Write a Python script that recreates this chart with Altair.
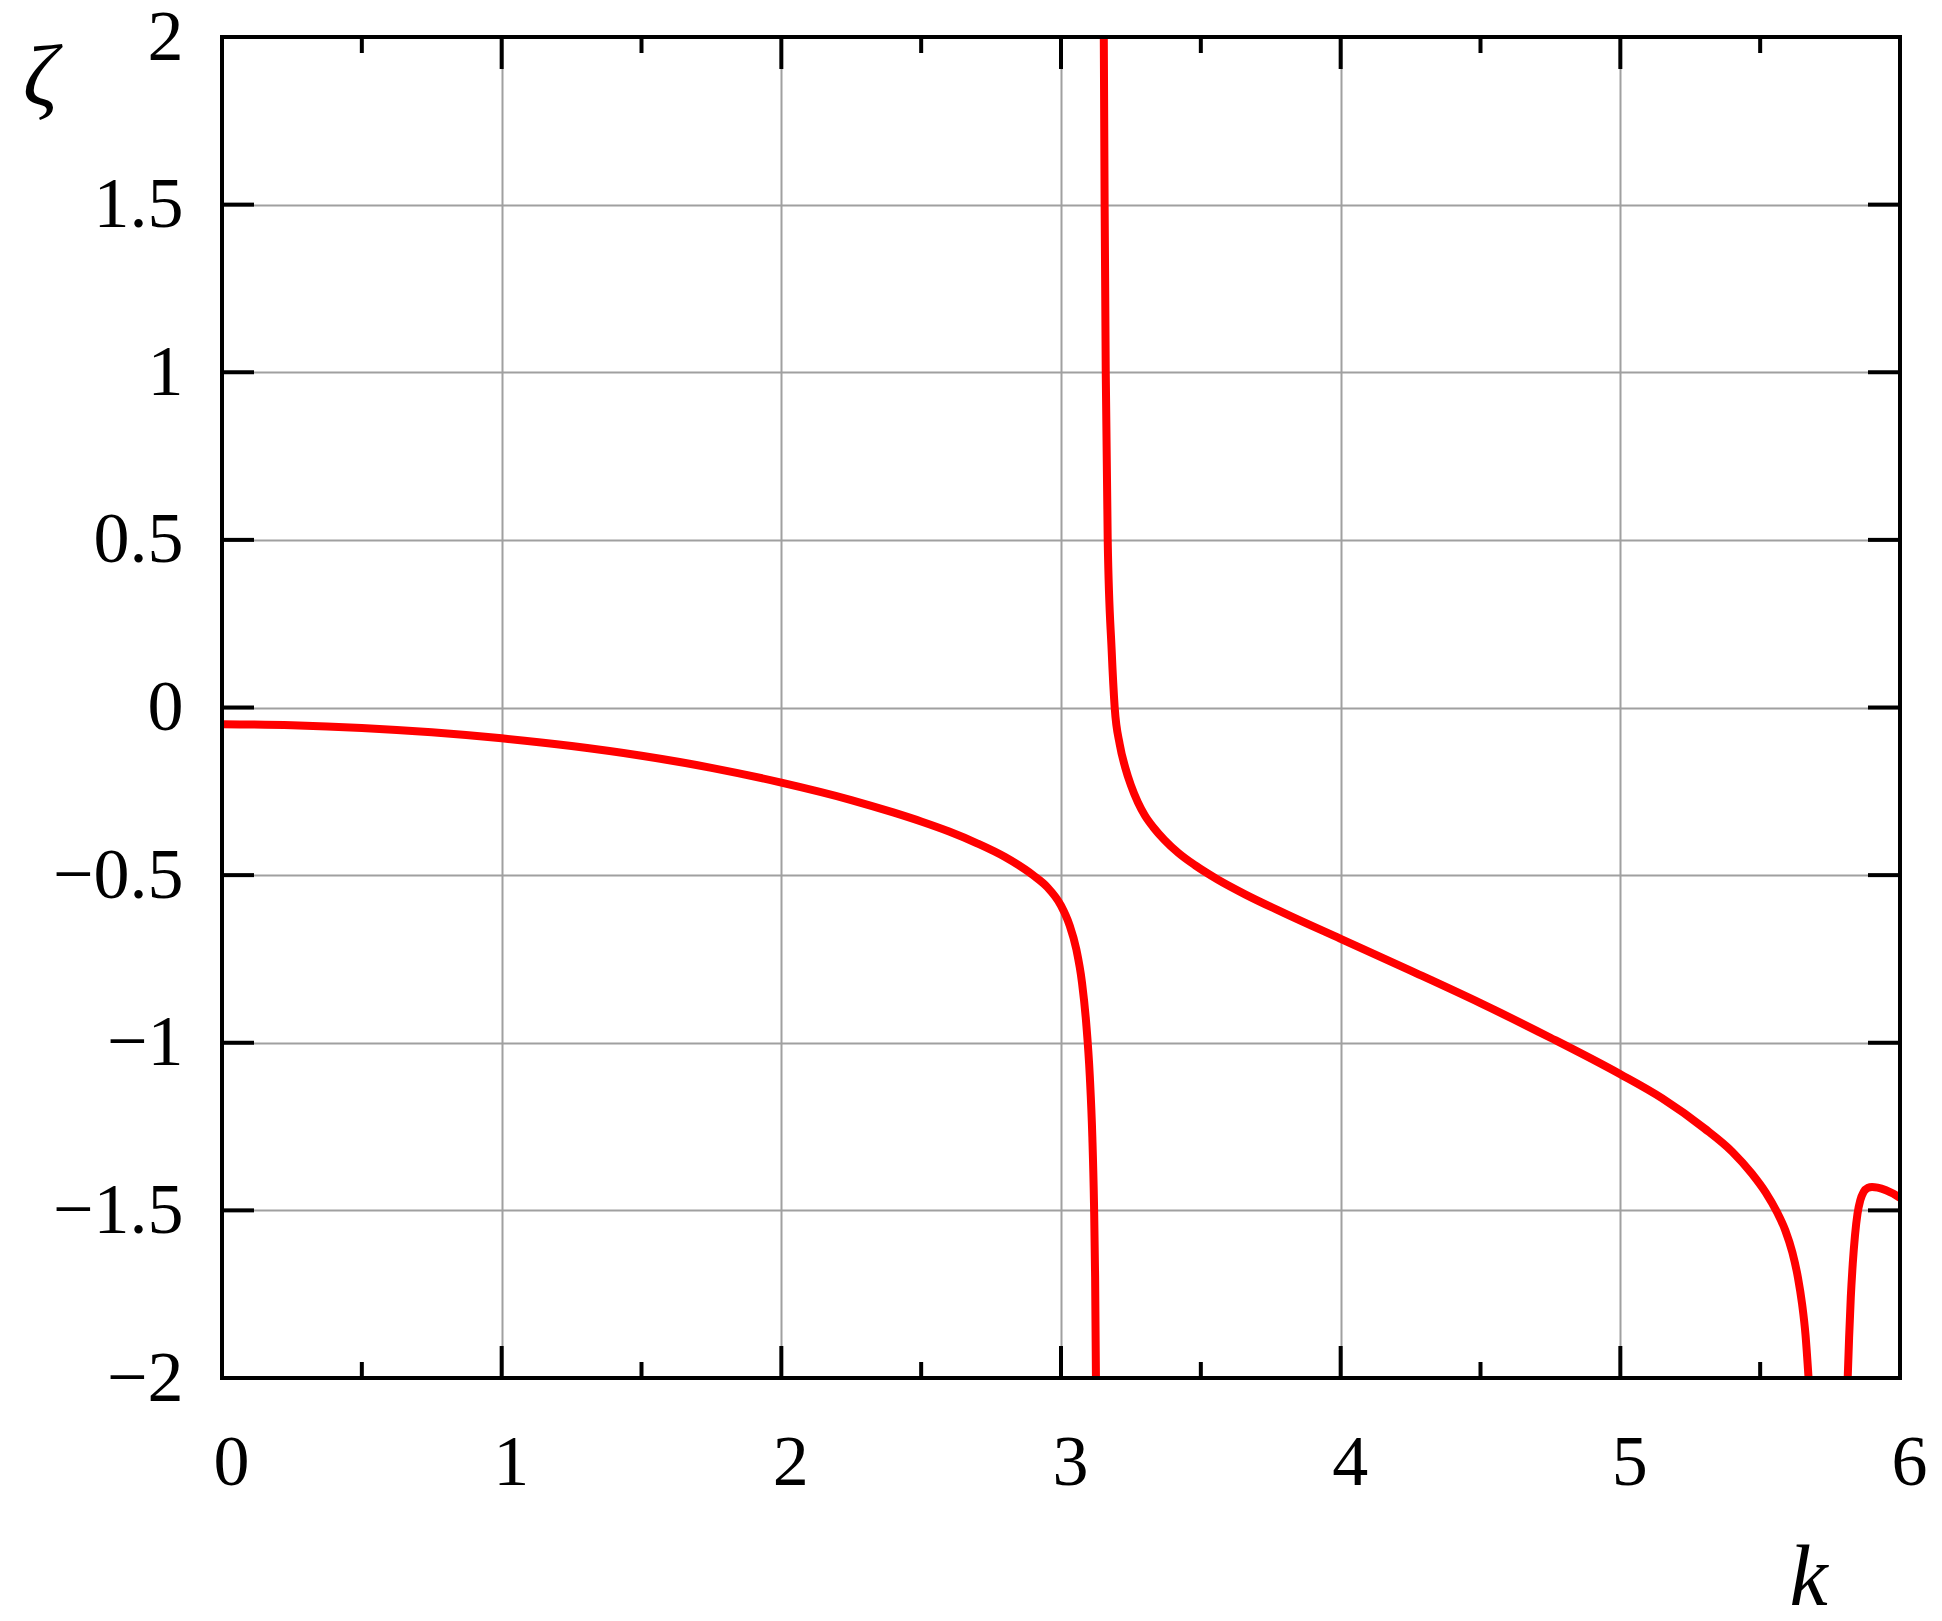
import altair as alt
import pandas as pd

# ---- data ----
# branch left of the first pole
k_a = [0.0, 0.25, 0.5, 0.75, 1.0, 1.25, 1.5, 1.75, 2.0, 2.25, 2.4, 2.5, 2.6, 2.7, 2.8,
       2.9, 2.95, 3.0, 3.03, 3.055, 3.075, 3.09, 3.103, 3.112, 3.118, 3.122, 3.125]
z_a = [-0.050, -0.053, -0.061, -0.074, -0.092, -0.115, -0.144, -0.180, -0.224, -0.276,
       -0.313, -0.340, -0.370, -0.405, -0.446, -0.500, -0.535, -0.591, -0.648, -0.722,
       -0.82, -0.94, -1.10, -1.28, -1.48, -1.70, -2.0]
# middle branch
k_b = [3.153, 3.156, 3.160, 3.167, 3.181, 3.192, 3.21, 3.23, 3.25, 3.275, 3.30, 3.33,
       3.37, 3.42, 3.48, 3.56, 3.66, 3.80, 4.0, 4.25, 4.5, 4.75, 5.0, 5.15, 5.3, 5.4,
       5.47, 5.52, 5.56, 5.59, 5.615, 5.635, 5.65, 5.662, 5.673]
z_b = [2.0, 1.5, 1.0, 0.5, 0.173, 0.0, -0.11, -0.18, -0.232, -0.283, -0.322, -0.357,
       -0.395, -0.434, -0.471, -0.513, -0.558, -0.614, -0.690, -0.785, -0.882, -0.985,
       -1.094, -1.166, -1.255, -1.325, -1.39, -1.447, -1.505, -1.56, -1.625, -1.70,
       -1.78, -1.87, -2.0]
# last branch
k_c = [5.813, 5.818, 5.824, 5.831, 5.839, 5.848, 5.858, 5.87, 5.885, 5.9, 5.92, 5.95,
       5.975, 6.0]
z_c = [-2.0, -1.88, -1.76, -1.66, -1.575, -1.51, -1.470, -1.445, -1.433, -1.430,
       -1.432, -1.440, -1.450, -1.463]

x_major = [0, 1, 2, 3, 4, 5, 6]
x_minor = [0.5, 1.5, 2.5, 3.5, 4.5, 5.5]
y_major = [-2, -1.5, -1, -0.5, 0, 0.5, 1, 1.5, 2]

W, H = 1678, 1341
FONT = "Liberation Serif"
MAJ, MIN = 32, 16
TW = 4

curve_df = pd.concat([
    pd.DataFrame({"k": k_a, "z": z_a, "seg": "a"}),
    pd.DataFrame({"k": k_b, "z": z_b, "seg": "b"}),
    pd.DataFrame({"k": k_c, "z": z_c, "seg": "c"}),
], ignore_index=True)

xs = alt.Scale(domain=[0, 6], nice=False, zero=False)
ys = alt.Scale(domain=[-2, 2], nice=False, zero=False)

x_axis = alt.Axis(
    values=x_major, grid=True, gridColor="#a0a0a0", gridWidth=2, gridOpacity=1,
    ticks=False, tickSize=0, domain=False,
    labelFont=FONT, labelFontSize=72, labelColor="black", labelPadding=106,
    labelBaseline="alphabetic", labelOffset=9, labelFlush=False, format="~g",
    title="k", titleFont=FONT, titleFontStyle="italic", titleFontWeight="normal",
    titleFontSize=86, titleColor="black", titleX=1586, titleY=226,
    titleAlign="center", titleBaseline="alphabetic",
)
y_axis = alt.Axis(
    values=y_major, grid=True, gridColor="#a0a0a0", gridWidth=2, gridOpacity=1,
    ticks=False, tickSize=0, domain=False,
    labelFont=FONT, labelFontSize=72, labelColor="black", labelPadding=39,
    labelAlign="right", labelBaseline="middle", format="~g",
    title="ζ", titleFont=FONT, titleFontStyle="italic", titleFontWeight="normal",
    titleFontSize=86, titleColor="black", titleAngle=0, titleX=-182, titleY=67,
    titleAlign="center", titleBaseline="alphabetic",
)

curve = alt.Chart(curve_df).mark_line(
    color="#ff0000", strokeWidth=8, clip=True, interpolate="monotone"
).encode(
    x=alt.X("k:Q", scale=xs, axis=x_axis),
    y=alt.Y("z:Q", scale=ys, axis=y_axis),
    detail="seg:N",
)

xmaj_df = pd.DataFrame({"k": x_major})
xmin_df = pd.DataFrame({"k": x_minor})
ymaj_df = pd.DataFrame({"z": y_major})


def xticks(df, length, top):
    y0 = 0 if top else H
    y1 = length if top else H - length
    return alt.Chart(df).mark_rule(color="black", strokeWidth=TW).encode(
        x=alt.X("k:Q", scale=xs, axis=x_axis),
        y=alt.value(y0), y2=alt.value(y1),
    )


def yticks(df, length, left):
    x0 = 0 if left else W
    x1 = length if left else W - length
    return alt.Chart(df).mark_rule(color="black", strokeWidth=TW).encode(
        y=alt.Y("z:Q", scale=ys, axis=y_axis),
        x=alt.value(x0), x2=alt.value(x1),
    )


border = alt.Chart(pd.DataFrame({"a": [0]})).mark_rect(
    filled=False, stroke="black", strokeWidth=TW
).encode(
    x=alt.value(0), x2=alt.value(W), y=alt.value(0), y2=alt.value(H)
)

chart = alt.layer(
    curve,
    xticks(xmaj_df, MAJ, False), xticks(xmaj_df, MAJ, True),
    xticks(xmin_df, MIN, False), xticks(xmin_df, MIN, True),
    yticks(ymaj_df, MAJ, True), yticks(ymaj_df, MAJ, False),
    border,
).properties(
    width=W, height=H,
    autosize=alt.AutoSizeParams(type="none"),
    padding={"left": 214, "top": 29, "right": 30, "bottom": 235},
    background="white",
).configure_view(strokeWidth=0)

chart.save("out.html", embed_options={"renderer": "svg", "actions": False})
